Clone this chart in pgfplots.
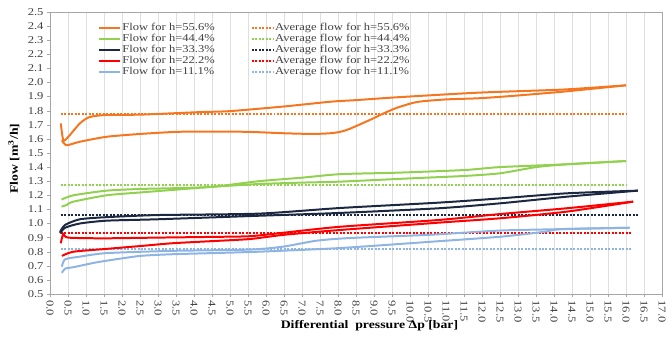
\documentclass[border=0pt]{standalone}
\usepackage{fontspec}
\setmainfont{Liberation Serif}[FakeStretch=1.2]
\usepackage{pgfplots}
\pgfplotsset{compat=1.18}
\definecolor{corange}{RGB}{245,118,30}
\definecolor{cgreen}{RGB}{146,208,80}
\definecolor{cnavy}{RGB}{28,39,66}
\definecolor{cred}{RGB}{255,0,0}
\definecolor{cblue}{RGB}{141,180,226}
\definecolor{ctext}{RGB}{64,64,64}
\newcommand{\tfont}{\fontsize{10.5}{12}\selectfont}
\newcommand{\lfont}{\fontsize{11.5}{13}\selectfont}
\begin{document}
\begin{tikzpicture}
\path[use as bounding box] (0,0) rectangle (667bp,338bp);
\begin{axis}[
  at={(50bp,44bp)}, anchor=south west,
  scale only axis, width=612bp, height=282bp,
  xmin=0, xmax=17, ymin=0.5, ymax=2.5,
  xtick distance=0.5, ytick distance=0.1,
  xtick pos=bottom, ytick pos=left,
  tick align=outside, major tick length=3pt,
  tick style={gray!70},
  axis line style={gray!70},
  xmajorgrids, grid style={gray!25, line width=0.5pt},
  /pgf/number format/.cd, fixed, fixed zerofill, precision=1, assume math mode=true,
  /pgfplots/.cd,
  x tick label style={rotate=-90, anchor=west, text=ctext, font=\tfont},
  y tick label style={text=ctext, font=\tfont},
  xlabel={\textbf{Differential\ \ pressure Δp [bar]}},
  ylabel={\textbf{Flow [m\textsuperscript{3}/h]}},
  xlabel style={at={(axis description cs:0.522,-0.113)}, anchor=center, text=black, font=\lfont},
  ylabel style={at={(axis description cs:-0.059,0.48)}, anchor=center, text=black, font=\lfont},
  legend columns=2,
  legend cell align=left,
  legend style={at={(axis description cs:0.078,0.965)}, anchor=north west, draw=none, fill=none,
    inner sep=0pt, row sep=0pt, font=\tfont, nodes={inner sep=1.1pt, text=ctext},
    /tikz/column 2/.style={column sep=35bp}},
  legend image code/.code={\draw[#1] (0cm,0cm) -- (0.75cm,0cm);},
  flow/.style={line width=2pt, smooth, tension=0.4},
  avg/.style={line width=2pt, dash pattern=on 2pt off 1.5pt},
]
% legend entries in row order
\addlegendimage{corange, line width=2pt}\addlegendentry{Flow for h=55.6\%}
\addlegendimage{corange, avg}\addlegendentry{Average flow for h=55.6\%}
\addlegendimage{cgreen, line width=2pt}\addlegendentry{Flow for h=44.4\%}
\addlegendimage{cgreen, avg}\addlegendentry{Average flow for h=44.4\%}
\addlegendimage{cnavy, line width=2pt}\addlegendentry{Flow for h=33.3\%}
\addlegendimage{cnavy, avg}\addlegendentry{Average flow for h=33.3\%}
\addlegendimage{cred, line width=2pt}\addlegendentry{Flow for h=22.2\%}
\addlegendimage{cred, avg}\addlegendentry{Average flow for h=22.2\%}
\addlegendimage{cblue, line width=2pt}\addlegendentry{Flow for h=11.1\%}
\addlegendimage{cblue, avg}\addlegendentry{Average flow for h=11.1\%}

% averages
\addplot[corange, avg, forget plot] coordinates {(0.3,1.775) (16.0,1.775)};
\addplot[cgreen, avg, forget plot] coordinates {(0.3,1.270) (16.0,1.270)};
\addplot[cnavy, avg, forget plot] coordinates {(0.3,1.057) (16.33,1.057)};
\addplot[cred, avg, forget plot] coordinates {(0.3,0.932) (16.15,0.932)};
\addplot[cblue, avg, forget plot] coordinates {(0.3,0.822) (16.15,0.822)};

% h=55.6%
\addplot[corange, flow, forget plot] coordinates {(0.30,1.71) (0.37,1.59) (0.51,1.615) (0.83,1.71) (1.1,1.755) (1.57,1.77) (2.5,1.772) (4.17,1.79) (5.0,1.797) (6.5,1.83) (7.8,1.864) (8.5,1.875) (9.63,1.895) (11.9,1.928) (14.25,1.95) (16.0,1.98)};
\addplot[corange, flow, forget plot] coordinates {(0.33,1.59) (0.46,1.555) (0.83,1.58) (1.57,1.615) (2.5,1.635) (3.52,1.65) (4.5,1.652) (5.5,1.65) (6.5,1.64) (7.3,1.635) (7.78,1.64) (8.06,1.65) (8.33,1.672) (8.89,1.735) (9.26,1.78) (9.63,1.82) (10.2,1.862) (11.0,1.88) (11.9,1.888) (12.8,1.904) (14.25,1.935) (16.0,1.98)};
% h=44.4%
\addplot[cgreen, flow, forget plot] coordinates {(0.32,1.17) (0.65,1.20) (1.57,1.233) (2.5,1.245) (3.4,1.25) (4.5,1.26) (5.8,1.30) (7.0,1.325) (8.06,1.35) (9.6,1.36) (11.5,1.379) (12.5,1.40) (14.35,1.42) (16.0,1.443)};
\addplot[cgreen, flow, forget plot] coordinates {(0.32,1.12) (0.45,1.13) (0.65,1.155) (1.57,1.20) (2.5,1.22) (3.4,1.238) (4.5,1.26) (5.8,1.28) (7.0,1.29) (8.06,1.297) (10.0,1.32) (11.5,1.337) (12.5,1.356) (13.5,1.40) (14.35,1.42) (16.0,1.443)};
% h=33.3%
\addplot[cnavy, flow, forget plot] coordinates {(0.28,0.94) (0.42,0.99) (0.83,1.03) (1.57,1.045) (3.0,1.06) (5.8,1.07) (8.06,1.11) (10.8,1.148) (12.5,1.178) (14.35,1.214) (16.33,1.233)};
\addplot[cnavy, flow, forget plot] coordinates {(0.28,0.93) (0.42,0.97) (0.83,1.0) (1.57,1.02) (3.0,1.03) (5.8,1.055) (8.06,1.075) (10.8,1.108) (12.5,1.143) (14.35,1.19) (16.33,1.233)};
% h=22.2%
\addplot[cred, flow, forget plot] coordinates {(0.30,0.86) (0.37,0.926) (0.5,0.90) (1.5,0.895) (3.0,0.90) (4.5,0.905) (5.56,0.91) (6.5,0.935) (8.06,0.977) (10.8,1.025) (12.5,1.067) (14.35,1.108) (16.2,1.155)};
\addplot[cred, flow, forget plot] coordinates {(0.33,0.77) (0.65,0.80) (1.57,0.82) (2.5,0.84) (3.4,0.86) (4.5,0.875) (5.56,0.89) (6.5,0.92) (8.06,0.954) (10.8,1.006) (12.5,1.037) (14.35,1.084) (16.2,1.155)};
% h=11.1%
\addplot[cblue, flow, forget plot] coordinates {(0.33,0.694) (0.42,0.746) (0.83,0.765) (1.57,0.79) (3.4,0.806) (5.56,0.815) (6.48,0.836) (7.4,0.878) (8.33,0.897) (10.55,0.92) (12.5,0.95) (14.2,0.96) (16.1,0.97)};
\addplot[cblue, flow, forget plot] coordinates {(0.33,0.65) (0.42,0.68) (0.65,0.69) (1.2,0.72) (1.57,0.736) (2.5,0.77) (3.4,0.782) (4.5,0.79) (5.8,0.80) (8.06,0.826) (10.55,0.87) (12.5,0.906) (13.7,0.94) (14.2,0.96) (16.1,0.97)};
\end{axis}
\end{tikzpicture}
\end{document}
